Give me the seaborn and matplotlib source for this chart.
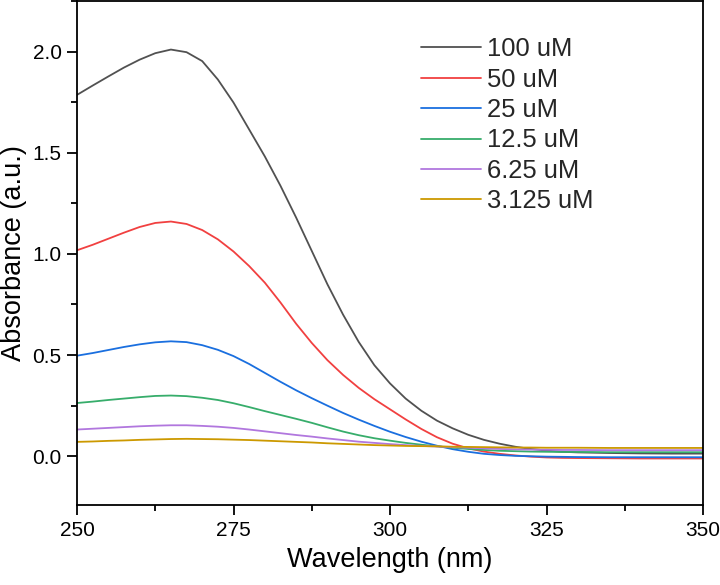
import numpy as np
import pandas as pd
import matplotlib
matplotlib.use("Agg")
import matplotlib.pyplot as plt
from matplotlib.ticker import MultipleLocator
import seaborn as sns

# ---- data ----
wavelength = [250, 252.5, 255, 257.5, 260, 262.5, 265, 267.5, 270, 272.5, 275, 277.5,
              280, 282.5, 285, 287.5, 290, 292.5, 295, 297.5, 300, 302.5, 305, 307.5,
              310, 312.5, 315, 317.5, 320, 322.5, 325, 327.5, 330, 335, 340, 345, 350]

abs_100 = [1.786, 1.832, 1.877, 1.921, 1.960, 1.992, 2.010, 1.997, 1.953, 1.862, 1.748, 1.615,
           1.482, 1.337, 1.180, 1.015, 0.850, 0.700, 0.565, 0.450, 0.360, 0.285, 0.225, 0.176,
           0.138, 0.106, 0.081, 0.062, 0.047, 0.036, 0.028, 0.022, 0.019, 0.016, 0.014, 0.013, 0.013]
abs_50 = [1.018, 1.045, 1.075, 1.105, 1.133, 1.153, 1.160, 1.148, 1.118, 1.072, 1.012, 0.940,
          0.858, 0.760, 0.655, 0.560, 0.475, 0.402, 0.338, 0.282, 0.232, 0.182, 0.135, 0.094,
          0.062, 0.039, 0.023, 0.012, 0.004, -0.002, -0.006, -0.008, -0.009, -0.010, -0.011, -0.011, -0.011]
abs_25 = [0.497, 0.510, 0.525, 0.540, 0.553, 0.563, 0.568, 0.564, 0.549, 0.526, 0.495, 0.456,
          0.412, 0.368, 0.326, 0.287, 0.250, 0.214, 0.181, 0.150, 0.121, 0.095, 0.072, 0.052,
          0.035, 0.022, 0.012, 0.006, 0.002, 0.000, -0.002, -0.003, -0.004, -0.005, -0.005, -0.005, -0.005]
abs_12_5 = [0.263, 0.270, 0.278, 0.285, 0.292, 0.298, 0.300, 0.297, 0.289, 0.278, 0.262, 0.243,
            0.223, 0.204, 0.185, 0.165, 0.143, 0.122, 0.104, 0.089, 0.077, 0.066, 0.057, 0.049,
            0.042, 0.036, 0.031, 0.027, 0.025, 0.023, 0.022, 0.021, 0.021, 0.020, 0.020, 0.020, 0.020]
abs_6_25 = [0.132, 0.136, 0.140, 0.144, 0.148, 0.151, 0.153, 0.153, 0.150, 0.146, 0.140, 0.132,
            0.123, 0.114, 0.105, 0.097, 0.088, 0.080, 0.072, 0.066, 0.060, 0.055, 0.051, 0.048,
            0.045, 0.042, 0.039, 0.036, 0.034, 0.033, 0.032, 0.031, 0.031, 0.030, 0.030, 0.030, 0.030]
abs_3_125 = [0.071, 0.073, 0.076, 0.078, 0.081, 0.083, 0.085, 0.086, 0.085, 0.084, 0.082, 0.080,
             0.077, 0.074, 0.071, 0.068, 0.064, 0.061, 0.058, 0.055, 0.053, 0.051, 0.050, 0.049,
             0.047, 0.046, 0.045, 0.044, 0.043, 0.043, 0.042, 0.042, 0.042, 0.041, 0.041, 0.041, 0.041]

series_labels = ["100 uM", "50 uM", "25 uM", "12.5 uM", "6.25 uM", "3.125 uM"]
series_values = [abs_100, abs_50, abs_25, abs_12_5, abs_6_25, abs_3_125]
colors = ["#515151", "#F14040", "#1A6FDF", "#37AD6B", "#B177DE", "#CC9900"]

df = pd.concat(
    [pd.DataFrame({"Wavelength": wavelength, "Absorbance": vals, "Conc": lab})
     for lab, vals in zip(series_labels, series_values)],
    ignore_index=True)

# ---- style ----
sns.set_theme(style="ticks")
plt.rcParams["font.family"] = ["Liberation Sans", "DejaVu Sans"]
plt.rcParams["axes.linewidth"] = 1.3

W, H = 720, 585
fig = plt.figure(figsize=(W / 100, H / 100), dpi=100)
left, right, top, bottom = 77, 703, 1, 505
ax = fig.add_axes([left / W, 1 - bottom / H, (right - left) / W, (bottom - top) / H])

sns.lineplot(data=df, x="Wavelength", y="Absorbance", hue="Conc",
             hue_order=series_labels, palette=colors, linewidth=1.3,
             ax=ax, sort=False, estimator=None)

ax.set_xlim(250, 350)
ax.set_ylim(-0.241, 2.25)
ax.xaxis.set_major_locator(MultipleLocator(25))
ax.xaxis.set_minor_locator(MultipleLocator(12.5))
ax.yaxis.set_major_locator(MultipleLocator(0.5))
ax.yaxis.set_minor_locator(MultipleLocator(0.25))
ax.yaxis.set_major_formatter(matplotlib.ticker.FormatStrFormatter("%.1f"))

ax.tick_params(axis="both", which="major", direction="out", length=7.2, width=1.3,
               labelsize=15, color="black", labelcolor="black")
ax.tick_params(axis="both", which="minor", direction="out", length=4, width=1.3, color="black")
ax.tick_params(axis="y", which="major", pad=3.8)
ax.tick_params(axis="x", which="major", pad=4.3)
ax.tick_params(top=False, right=False, which="both")
for s in ax.spines.values():
    s.set_color("black")
    s.set_linewidth(1.3)

ax.set_xlabel("Wavelength (nm)", fontsize=19.5, labelpad=5, color="black")
ax.set_ylabel("Absorbance (a.u.)", fontsize=19.5, labelpad=4, color="black")

handles, labels = ax.get_legend_handles_labels()
ax.legend(handles, labels, loc="upper left", bbox_to_anchor=(0.549, 0.928),
          frameon=False, fontsize=18.4, handlelength=2.35, handletextpad=0.25,
          labelspacing=0.25, borderpad=0, borderaxespad=0)

fig.savefig("out.png", dpi=100)
